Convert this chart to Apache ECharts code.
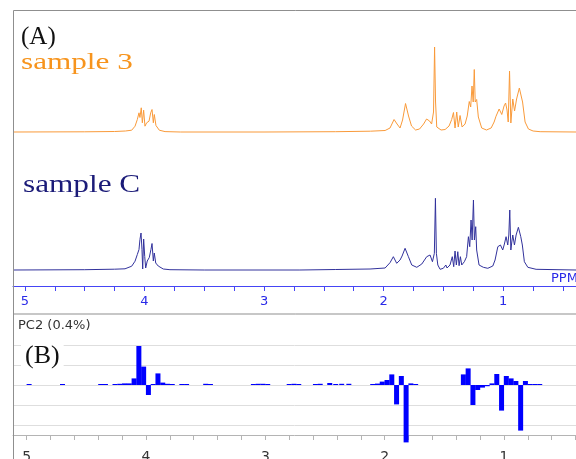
<!DOCTYPE html>
<html>
<head>
<meta charset="utf-8">
<script src="https://cdn.jsdelivr.net/npm/echarts@6/dist/echarts.min.js"></script>
<style>
  html, body { margin: 0; padding: 0; background: #fff; }
  #main { width: 576px; height: 459px; }
</style>
</head>
<body>
<div id="main"></div>
<script>
// 1H NMR spectra, [ppm, intensity]
let sample3Points = [
  [5.10, 0], [4.50, 0.2], [4.25, 0.5], [4.16, 1.0], [4.107, 1.8], [4.079, 5.8], [4.060, 12.5],
  [4.046, 19.2], [4.038, 14.5], [4.027, 24.2], [4.018, 9.2], [4.007, 21.8], [3.996, 5.8],
  [3.982, 9.2], [3.962, 10.8], [3.948, 19.2], [3.937, 22.5], [3.926, 9.2], [3.918, 17.5],
  [3.904, 6.5], [3.876, 1.8], [3.828, 0.4], [3.70, 0], [3.00, 0], [2.40, 0.3], [2.11, 0.8],
  [1.987, 1.5], [1.946, 4], [1.912, 12.5], [1.887, 8], [1.862, 4], [1.841, 12], [1.816, 28.5],
  [1.791, 16], [1.766, 6], [1.732, 2], [1.699, 3], [1.665, 8], [1.640, 13], [1.615, 11],
  [1.598, 8], [1.582, 20], [1.573, 85], [1.565, 30], [1.555, 5], [1.544, 3], [1.519, 2],
  [1.485, 2.5], [1.452, 6], [1.430, 12.5], [1.415, 19.5], [1.402, 4], [1.388, 20], [1.375, 5],
  [1.360, 16.5], [1.343, 5], [1.318, 8], [1.300, 16], [1.283, 30.5], [1.271, 25], [1.260, 46],
  [1.250, 30], [1.241, 62.5], [1.233, 30], [1.221, 32.5], [1.207, 15], [1.179, 4], [1.139, 2],
  [1.100, 4], [1.075, 10], [1.059, 15.8], [1.033, 23], [1.011, 17.5], [0.992, 26], [0.979, 29],
  [0.967, 22], [0.957, 10], [0.946, 61], [0.935, 9], [0.919, 33], [0.904, 21], [0.887, 33],
  [0.864, 44], [0.837, 30], [0.816, 10], [0.788, 3], [0.749, 1], [0.690, 0.3], [0.39, 0]
];

let sampleCPoints = [
  [5.10, 0], [4.50, 0.3], [4.25, 0.8], [4.163, 1.2], [4.107, 3.8], [4.079, 8.8], [4.060, 15.5],
  [4.046, 20.5], [4.038, 30.5], [4.029, 37], [4.021, 20.5], [4.015, 1], [4.007, 31], [3.998, 13.5],
  [3.990, 2], [3.977, 9], [3.960, 12.5], [3.946, 20.5], [3.937, 26.5], [3.926, 9], [3.918, 17],
  [3.906, 7], [3.885, 4], [3.843, 1], [3.787, 0.3], [3.50, 0], [2.70, 0], [2.40, 0.5], [2.113, 1],
  [1.987, 2], [1.946, 7.3], [1.918, 13.3], [1.890, 6.7], [1.862, 10], [1.845, 14], [1.820, 21.7],
  [1.792, 13.3], [1.764, 5], [1.722, 2.7], [1.680, 6], [1.639, 13.3], [1.611, 15], [1.591, 8.3],
  [1.575, 16.7], [1.566, 71.7], [1.558, 16.7], [1.546, 5], [1.527, 0.7], [1.500, 1.7], [1.479, 5],
  [1.469, 2], [1.444, 5], [1.425, 13.3], [1.413, 3.3], [1.402, 19], [1.391, 5], [1.379, 18.3],
  [1.368, 4.3], [1.357, 13.3], [1.346, 5], [1.324, 8.3], [1.305, 13.3], [1.290, 33.3], [1.279, 23.3],
  [1.268, 50], [1.259, 30], [1.248, 70], [1.240, 30], [1.229, 43.3], [1.221, 20], [1.201, 5],
  [1.165, 2.7], [1.128, 1.7], [1.086, 4], [1.067, 10], [1.044, 23.3], [1.022, 25], [1.003, 20],
  [0.989, 26], [0.975, 33.3], [0.961, 25], [0.952, 35], [0.944, 60], [0.935, 20], [0.927, 28],
  [0.919, 35], [0.905, 25], [0.891, 35], [0.872, 42.7], [0.852, 33.3], [0.839, 25], [0.822, 8.3],
  [0.793, 2.7], [0.724, 0.7], [0.39, 0]
];

// PC2 loadings per 0.04 ppm bucket
let pc2Loadings = [
  [4.98, 0.05], [4.70, 0.05], [4.38, 0.05], [4.34, 0.05], [4.26, 0.05], [4.22, 0.06], [4.18, 0.08],
  [4.14, 0.08], [4.10, 0.33], [4.06, 1.95], [4.02, 0.92], [3.98, -0.5], [3.94, 0.05], [3.90, 0.58],
  [3.86, 0.12], [3.82, 0.06], [3.78, 0.05], [3.70, 0.05], [3.66, 0.05], [3.50, 0.06], [3.46, 0.05],
  [3.10, 0.05], [3.06, 0.06], [3.02, 0.06], [2.98, 0.05], [2.80, 0.05], [2.76, 0.06], [2.72, 0.05],
  [2.58, 0.05], [2.54, 0.06], [2.46, 0.1], [2.41, 0.05], [2.36, 0.06], [2.30, 0.06], [2.10, 0.05],
  [2.06, 0.07], [2.02, 0.17], [1.98, 0.25], [1.94, 0.53], [1.90, -0.97], [1.86, 0.45], [1.82, -2.87],
  [1.78, 0.08], [1.74, 0.05], [1.34, 0.53], [1.30, 0.83], [1.26, -1.0], [1.22, -0.25], [1.18, -0.13],
  [1.14, -0.06], [1.10, 0.08], [1.06, 0.55], [1.02, -1.28], [0.98, 0.45], [0.94, 0.33], [0.90, 0.2],
  [0.86, -2.28], [0.82, 0.2], [0.78, 0.05], [0.74, 0.05], [0.70, 0.05]
];

let ppmLabels = [1, 2, 3, 4, 5];

// tick positions: 0.25 ppm on the spectrum axis, 0.2 ppm on the loading axis
let specTicks = [];
for (let k = 2; k <= 20; k++) specTicks.push(k / 4);
let loadTicks = [];
for (let k = 2; k <= 25; k++) loadTicks.push(k / 5);

let myChart = echarts.init(document.getElementById('main'));

let option = {
  animation: false,
  grid: [
    { left: 13, right: 0, top: 32, height: 105, outerBoundsMode: 'none' },    // sample 3
    { left: 13, right: 0, top: 170, height: 116, outerBoundsMode: 'none' },   // sample C + ppm axis
    { left: 13, right: 0, top: 325, height: 120, outerBoundsMode: 'none' }    // PC2
  ],
  xAxis: [{
    type: 'value', gridIndex: 0, inverse: true, min: 0.39, max: 5.10, show: false
  }, {
    type: 'value', gridIndex: 1, inverse: true, min: 0.39, max: 5.10,
    axisLine: { show: true, onZero: false, lineStyle: { color: '#4545f5', width: 1 } },
    axisTick: { show: true, length: 5, customValues: specTicks, lineStyle: { color: '#4545f5' } },
    axisLabel: {
      color: '#2a2ae8', fontSize: 13, fontFamily: 'DejaVu Sans', margin: 9,
      customValues: ppmLabels
    },
    splitLine: { show: false },
    name: 'PPM',
    nameLocation: 'start',
    nameGap: -25,
    nameTextStyle: { color: '#2a2ae8', fontSize: 13, fontFamily: 'DejaVu Sans', align: 'left', verticalAlign: 'bottom', padding: [0, 0, 1, 0] }
  }, {
    type: 'value', gridIndex: 2, inverse: true, min: 0.396, max: 5.115, offset: -10,
    axisLine: { show: true, onZero: false, lineStyle: { color: '#b4b4b4', width: 1 } },
    axisTick: { show: true, length: 5, customValues: loadTicks, lineStyle: { color: '#b4b4b4' } },
    axisLabel: {
      color: '#333', fontSize: 14, fontFamily: 'DejaVu Sans', margin: 15,
      customValues: ppmLabels
    },
    splitLine: { show: false }
  }],
  yAxis: [{
    type: 'value', gridIndex: 0, min: -5, max: 100, show: false
  }, {
    type: 'value', gridIndex: 1, min: -16, max: 100, show: false
  }, {
    type: 'value', gridIndex: 2, min: -3, max: 3, interval: 1,
    axisLine: { show: false }, axisTick: { show: false }, axisLabel: { show: false },
    splitLine: { show: true, showMinLine: false, showMaxLine: false, lineStyle: { color: '#dedede' } }
  }],
  series: [{
    name: 'sample 3', type: 'line', xAxisIndex: 0, yAxisIndex: 0,
    data: sample3Points, symbol: 'none', silent: true,
    lineStyle: { color: '#f99a3a', width: 1 }
  }, {
    name: 'sample C', type: 'line', xAxisIndex: 1, yAxisIndex: 1,
    data: sampleCPoints, symbol: 'none', silent: true,
    lineStyle: { color: '#32329c', width: 1 }
  }, {
    name: 'PC2', type: 'bar', xAxisIndex: 2, yAxisIndex: 2,
    data: pc2Loadings, barWidth: 5, silent: true,
    itemStyle: { color: '#0000ff' }
  }],
  graphic: [
    { type: 'rect', z: 50, shape: { x: 13.5, y: 10.5, width: 620, height: 303.5 },
      style: { fill: 'none', stroke: '#8f8f8f', lineWidth: 1 } },
    { type: 'line', z: 50, shape: { x1: 13.5, y1: 314, x2: 13.5, y2: 459 },
      style: { stroke: '#8f8f8f', lineWidth: 1 } },
    { type: 'text', z: 100, x: 21, y: 37,
      style: { text: '(A)', font: '25px "Liberation Serif"', fill: '#111', verticalAlign: 'middle' } },
    { type: 'text', z: 100, x: 21, y: 63, scaleX: 1.3,
      style: { text: 'sample 3', font: '24px "Liberation Serif"', fill: '#f7941d', verticalAlign: 'middle' } },
    { type: 'text', z: 100, x: 23, y: 185, scaleX: 1.25,
      style: { text: 'sample C', font: '25px "Liberation Serif"', fill: '#1b1b78', verticalAlign: 'middle' } },
    { type: 'text', z: 100, x: 18, y: 326,
      style: { text: 'PC2 (0.4%)', font: '13px "DejaVu Sans"', fill: '#333', verticalAlign: 'middle' } },
    { type: 'text', z: 100, x: 21, y: 356,
      style: { text: '(B)', font: '26px "Liberation Serif"', fill: '#111', verticalAlign: 'middle',
               backgroundColor: '#fff', padding: [3, 4, 3, 4] } }
  ]
};

myChart.setOption(option);
</script>
</body>
</html>
